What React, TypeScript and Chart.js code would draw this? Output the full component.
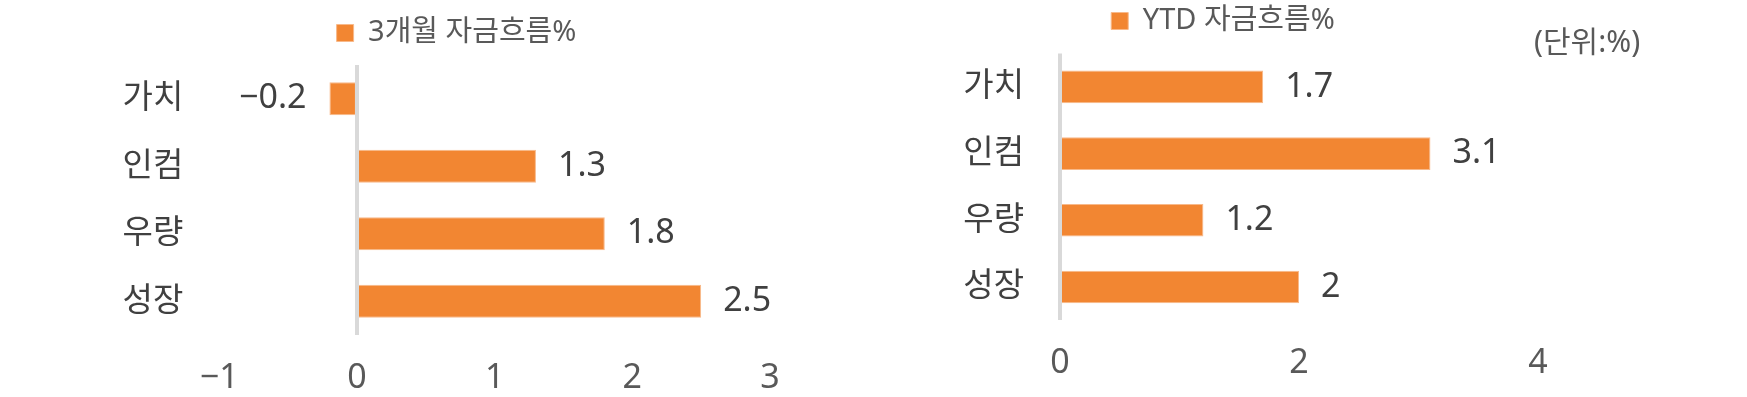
import React, { useEffect, useRef } from 'react';
import { Chart, registerables } from 'chart.js';

Chart.register(...registerables);

// ---- data ----
const categories = ['가치', '인컴', '우량', '성장'];
const flow3m = [-0.2, 1.3, 1.8, 2.5];
const flowYtd = [1.7, 3.1, 1.2, 2];
const label3m = '3개월 자금흐름%';
const labelYtd = 'YTD 자금흐름%';
const unitText = '(단위:%)';
const axis3m = [-1, 3, 1]; // min, max, step
const axisYtd = [0, 4, 2];

const FONT = '"Noto Sans", "Noto Sans CJK KR", sans-serif';
const BAR = '#F28632';
const BAR_EDGE = '#F8B98A';
const DARK = '#404040';
const MID = '#595959';

const fmt = (v: number) => String(v).replace('-', '\u2212');

const valueLabels = {
  id: 'valueLabels',
  afterDatasetsDraw(chart: any) {
    const { ctx } = chart;
    const ds = chart.data.datasets[0];
    const meta = chart.getDatasetMeta(0);
    ctx.save();
    ctx.font = `34px ${FONT}`;
    ctx.fillStyle = DARK;
    ctx.textBaseline = 'middle';
    meta.data.forEach((el: any, i: number) => {
      const v = ds.data[i] as number;
      if (v < 0) {
        ctx.textAlign = 'right';
        ctx.fillText(fmt(v), el.x - 23, el.y);
      } else {
        ctx.textAlign = 'left';
        ctx.fillText(fmt(v), el.x + 22, el.y);
      }
    });
    ctx.restore();
  },
};

type Spec = {
  values: number[];
  legend: string;
  axis: number[];
  pad: { left: number; right: number; top: number; bottom: number };
  yWidth: number;
  xHeight: number;
  legendPad: number;
  topGap: number;
  rightGap: number;
};

function makeChart(canvas: HTMLCanvasElement, s: Spec) {
  return new Chart(canvas, {
    type: 'bar',
    data: {
      labels: categories,
      datasets: [
        {
          label: s.legend,
          data: s.values,
          backgroundColor: BAR,
          borderColor: BAR_EDGE,
          borderWidth: 1,
          categoryPercentage: 1,
          barPercentage: 0.49,
        },
      ],
    },
    options: {
      responsive: false,
      animation: false,
      indexAxis: 'y',
      layout: { padding: s.pad },
      scales: {
        x: {
          type: 'linear',
          min: s.axis[0],
          max: s.axis[1],
          afterFit: (sc: any) => {
            sc.height = s.xHeight;
          },
          ticks: {
            stepSize: s.axis[2],
            padding: 23,
            color: MID,
            font: { family: FONT, size: 34 },
            callback: (v: any) => fmt(Number(v)),
          },
          grid: {
            drawTicks: false,
            lineWidth: 4,
            color: (c: any) => (c.tick && c.tick.value === 0 ? '#D9D9D9' : 'rgba(0,0,0,0)'),
          },
          border: { display: false },
        },
        y: {
          afterFit: (sc: any) => {
            sc.width = s.yWidth;
          },
          ticks: {
            padding: 36,
            color: DARK,
            font: { family: FONT, size: 33, lineHeight: 1 },
          },
          grid: { display: false, drawTicks: false },
          border: { display: false },
        },
      },
      plugins: {
        legend: {
          position: 'top',
          align: 'center',
          labels: {
            boxWidth: 17,
            boxHeight: 17,
            padding: s.legendPad,
            color: MID,
            font: { family: FONT, size: 29 },
          },
        },
        // empty spacer between legend and plot area
        title: {
          display: true,
          text: '',
          weight: 500,
          position: 'top',
          font: { size: 1, lineHeight: 1 },
          padding: { top: 0, bottom: s.topGap - 1 },
        },
        // empty spacer to the right of the plot area
        subtitle: {
          display: true,
          text: '',
          position: 'right',
          fullSize: false,
          font: { size: 1, lineHeight: 1 },
          padding: { top: 0, bottom: s.rightGap - 1 },
        },
        tooltip: { enabled: false },
      },
    },
    plugins: [valueLabels],
  } as any);
}

export default function App() {
  const leftRef = useRef<HTMLCanvasElement>(null);
  const rightRef = useRef<HTMLCanvasElement>(null);

  useEffect(() => {
    const c1 = makeChart(leftRef.current!, {
      values: flow3m,
      legend: label3m,
      axis: axis3m,
      pad: { left: 0, right: 0, top: 8.5, bottom: 0 },
      yWidth: 219.3,
      xHeight: 62,
      legendPad: 10,
      topGap: 7.5,
      rightGap: 143,
    });
    const c2 = makeChart(rightRef.current!, {
      values: flowYtd,
      legend: labelYtd,
      axis: axisYtd,
      pad: { left: 0, right: 20, top: 0, bottom: 0 },
      yWidth: 180,
      xHeight: 76.7,
      legendPad: 6.5,
      topGap: 8.1,
      rightGap: 28,
    });
    return () => {
      c1.destroy();
      c2.destroy();
    };
  }, []);

  return (
    <div
      style={{
        position: 'absolute',
        left: 0,
        top: 0,
        width: 1747,
        height: 397,
        background: '#ffffff',
        overflow: 'hidden',
      }}
    >
      <canvas
        ref={leftRef}
        width={913}
        height={397}
        style={{ position: 'absolute', left: 0, top: 0, width: 913, height: 397 }}
      />
      <canvas
        ref={rightRef}
        width={706}
        height={397}
        style={{ position: 'absolute', left: 880, top: 0, width: 706, height: 397 }}
      />
      <div
        style={{
          position: 'absolute',
          left: 1534,
          top: 26,
          fontFamily: FONT,
          fontSize: 30,
          lineHeight: '30px',
          color: MID,
          whiteSpace: 'nowrap',
        }}
      >
        {unitText}
      </div>
    </div>
  );
}
